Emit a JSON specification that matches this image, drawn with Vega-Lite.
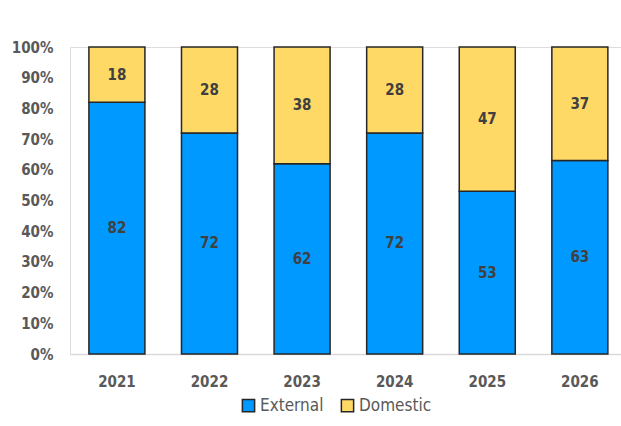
{
  "$schema": "https://vega.github.io/schema/vega-lite/v6.json",
  "width": 551,
  "height": 307,
  "autosize": "none",
  "padding": {"left": 70, "top": 47, "right": 0, "bottom": 72},
  "background": "white",
  "data": {"values": [
    {"Year": "2021", "Type": "External", "Value": 82},
    {"Year": "2021", "Type": "Domestic", "Value": 18},
    {"Year": "2022", "Type": "External", "Value": 72},
    {"Year": "2022", "Type": "Domestic", "Value": 28},
    {"Year": "2023", "Type": "External", "Value": 62},
    {"Year": "2023", "Type": "Domestic", "Value": 38},
    {"Year": "2024", "Type": "External", "Value": 72},
    {"Year": "2024", "Type": "Domestic", "Value": 28},
    {"Year": "2025", "Type": "External", "Value": 53},
    {"Year": "2025", "Type": "Domestic", "Value": 47},
    {"Year": "2026", "Type": "External", "Value": 63},
    {"Year": "2026", "Type": "Domestic", "Value": 37}
  ]},
  "encoding": {
    "x": {"field": "Year", "type": "nominal", "title": null,
      "scale": {"paddingInner": 0.395, "paddingOuter": 0.173, "align": 0.59},
      "axis": {"labelAngle": 0, "ticks": false, "domainColor": "#d9d9d9", "domainWidth": 1.5,
        "labelFont": "DejaVu Sans Condensed", "labelFontSize": 15, "labelFontWeight": "bold",
        "labelColor": "#595959", "labelPadding": 20}},
    "y": {"field": "Value", "type": "quantitative", "stack": "normalize", "title": null,
      "scale": {"domain": [0, 1]},
      "axis": {"values": [0, 0.1, 0.2, 0.3, 0.4, 0.5, 0.6, 0.7, 0.8, 0.9, 1], "format": ".0%",
        "domain": false, "ticks": false, "grid": false,
        "labelFont": "DejaVu Sans Condensed", "labelFontSize": 15, "labelFontWeight": "bold",
        "labelColor": "#595959", "labelPadding": 17}},
    "order": {"field": "Type", "sort": "descending"}
  },
  "layer": [
    {"mark": {"type": "bar", "stroke": "#262626", "strokeWidth": 1.5},
      "encoding": {
        "color": {"field": "Type", "type": "nominal", "title": null,
          "scale": {"domain": ["External", "Domestic"], "range": ["#0099ff", "#ffd966"]},
          "legend": {"orient": "none", "legendX": 170, "legendY": 350, "direction": "horizontal",
            "symbolType": "square", "symbolSize": 150, "symbolStrokeColor": "#262626", "symbolStrokeWidth": 1.5,
            "labelFont": "DejaVu Sans Condensed", "labelFontSize": 17, "labelColor": "#595959",
            "columnPadding": 14, "labelOffset": 3}}
      }},
    {"mark": {"type": "text", "font": "DejaVu Sans Condensed", "fontSize": 15, "fontWeight": "bold", "color": "#404040"},
      "encoding": {
        "y": {"field": "Value", "type": "quantitative", "stack": "normalize", "bandPosition": 0.5},
        "text": {"field": "Value", "type": "quantitative"}
      }}
  ]
}
